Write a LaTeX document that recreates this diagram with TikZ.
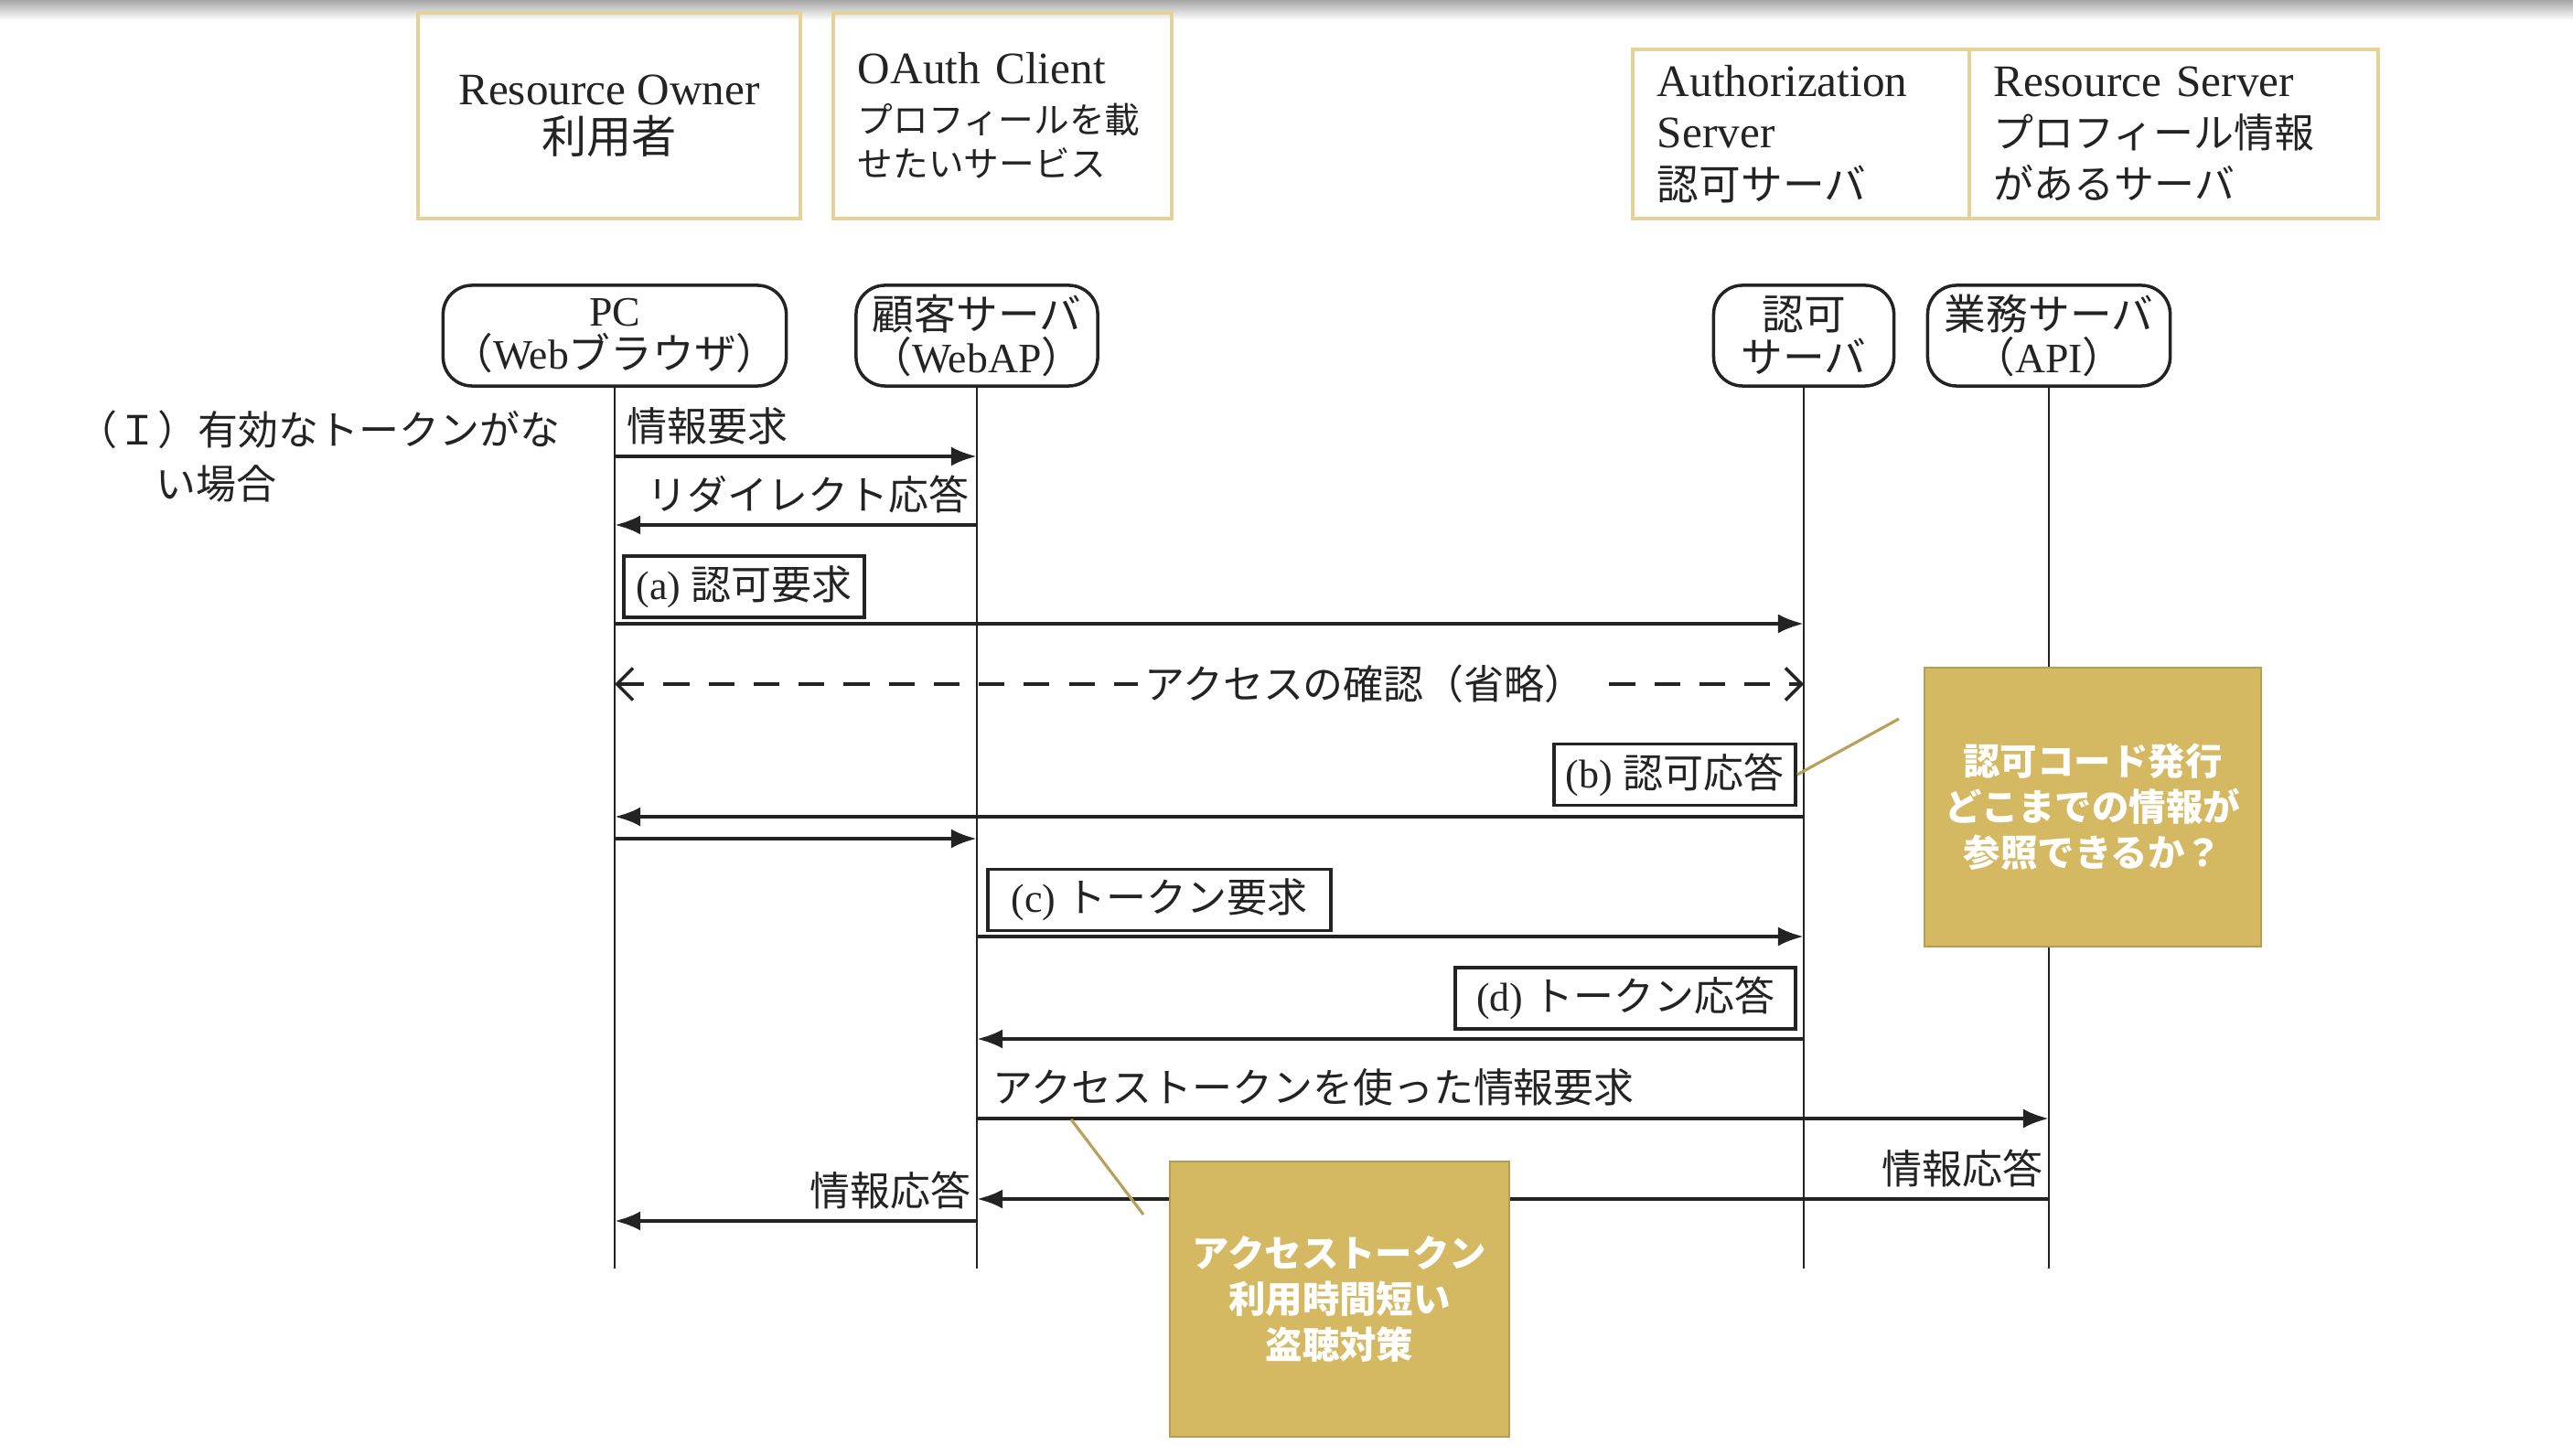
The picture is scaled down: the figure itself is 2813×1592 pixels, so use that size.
\documentclass[tikz,border=0pt]{standalone}
\usepackage{fontspec}
\setmainfont{Liberation Serif}
\newfontfamily\jp{Noto Sans CJK JP}
\usetikzlibrary{arrows.meta}
\definecolor{framegold}{RGB}{228,210,150}
\definecolor{notegold}{RGB}{213,185,98}
\definecolor{leadgold}{RGB}{185,160,90}
\definecolor{ink}{RGB}{35,35,35}

\tikzset{
  role/.style={draw=framegold, line width=1.3pt, inner sep=0pt, text=ink},
  head/.style={draw=ink, line width=1pt, rounded corners=9pt, align=center, minimum height=1.1cm, inner sep=0pt, text=ink, font=\fontsize{13}{13.3}\selectfont},
  life/.style={draw=ink, line width=0.6pt},
  msg/.style={draw=ink, line width=1.2pt, -{Latex[length=8pt,width=6pt]}},
  ask/.style={draw=ink, line width=1pt, dash pattern=on 8pt off 6pt, {Straight Barb[length=5pt,width=10pt]}-{Straight Barb[length=5pt,width=10pt]}},
  lbl/.style={inner sep=0pt, text=ink, font=\jp\fontsize{12.5}{14}\selectfont},
  tagbox/.style={draw=ink, line width=1pt, fill=white, inner sep=0pt, minimum height=0.67cm, text=ink, font=\fontsize{12.5}{14}\selectfont},
  memo/.style={fill=notegold, draw=notegold!85!black, line width=0.6pt, text=white, align=center, font=\jp\bfseries\fontsize{11.5}{14.2}\selectfont},
  lead/.style={draw=leadgold, line width=0.9pt}
}

\begin{document}
\begin{tikzpicture}[x=0.01cm, y=-0.01cm]
\useasboundingbox (0,0) rectangle (2813,1592);
\shade[top color=black!35, bottom color=white] (0,0) rectangle (2813,22);

% roles at the top
\node[role, minimum width=4.18cm, minimum height=2.25cm, align=center, font=\fontsize{14}{15}\selectfont] (owner) at (666,126.5)
  {Resource Owner\\ {\jp 利用者}};
\node[role, minimum width=3.70cm, minimum height=2.25cm, text width=3.16cm, align=left, font=\fontsize{14}{13.6}\selectfont] (client) at (1096,126.5)
  {OAuth Client\\[1.8pt] \jp\fontsize{11}{13.6}\selectfont プロフィールを載\\ せたいサービス};
\node[role, minimum width=3.68cm, minimum height=1.85cm, text width=3.14cm, align=left, font=\fontsize{14}{16}\selectfont] (authrole) at (1969,146.5)
  {Authorization\\ Server\\ \jp\fontsize{13}{16}\selectfont 認可サーバ};
\node[role, minimum width=4.47cm, minimum height=1.85cm, text width=3.93cm, align=left, font=\fontsize{14}{16}\selectfont] (resrole) at (2376.5,146.5)
  {Resource Server\\ \jp\fontsize{12.5}{16}\selectfont プロフィール情報\\ があるサーバ};

% lifeline heads
\node[head, minimum width=3.75cm] (pc) at (672,367) {PC\\{\jp （}Web{\jp ブラウザ）}};
\node[head, minimum width=2.64cm] (web) at (1068,367) {{\jp 顧客サーバ}\\{\jp （}WebAP{\jp ）}};
\node[head, minimum width=1.97cm] (auth) at (1972,367) {{\jp 認可}\\{\jp サーバ}};
\node[head, minimum width=2.65cm] (api) at (2240,367) {{\jp 業務サーバ}\\{\jp （}API{\jp ）}};

% lifelines
\foreach \n in {pc,web,auth,api}
  \draw[life] (\n.south) -- (\n |- 0,1387);

% case note
\node[lbl, anchor=west] (casea) at (84,470) {（Ｉ）有効なトークンがな};
\node[lbl, anchor=west] (caseb) at (170,529) {い場合};

% messages
\draw[msg] (pc |- 0,499) -- (web |- 0,499);
\node[lbl, anchor=west] (m1) at (685,466) {情報要求};

\draw[msg] (web |- 0,574) -- (pc |- 0,574);
\node[lbl, anchor=east] (m2) at (1060,540) {リダイレクト応答};

\node[tagbox, minimum width=2.63cm] (taga) at (813.5,641.5) {(a) {\jp 認可要求}};
\draw[msg] (pc |- 0,682) -- (auth |- 0,682);

\draw[ask] (pc |- 0,748) -- (auth |- 0,748);
\node[lbl, fill=white, inner xsep=2pt] (check) at (1492,748) {アクセスの確認（省略）};

\node[tagbox, minimum width=2.64cm] (tagb) at (1831,847) {(b) {\jp 認可応答}};
\draw[msg] (auth |- 0,893) -- (pc |- 0,893);

\draw[msg] (pc |- 0,917) -- (web |- 0,917);

\node[tagbox, minimum width=3.75cm] (tagc) at (1267.5,984) {(c) {\jp トークン要求}};
\draw[msg] (web |- 0,1024) -- (auth |- 0,1024);

\node[tagbox, minimum width=3.72cm] (tagd) at (1777,1091.5) {(d) {\jp トークン応答}};
\draw[msg] (auth |- 0,1136) -- (web |- 0,1136);

\draw[msg] (web |- 0,1223) -- (api |- 0,1223);
\node[lbl, anchor=west] (m9) at (1085,1189) {アクセストークンを使った情報要求};

\draw[msg] (api |- 0,1311) -- (web |- 0,1311);
\node[lbl, anchor=east] (m10) at (2234,1277) {情報応答};

\draw[msg] (web |- 0,1335) -- (pc |- 0,1335);
\node[lbl, anchor=east] (m11) at (1062,1302) {情報応答};

% notes
\node[memo, minimum width=3.68cm, minimum height=3.05cm] (codenote) at (2288,882.5)
  {認可コード発行\\どこまでの情報が\\参照できるか？};
\node[memo, minimum width=3.71cm, minimum height=3.01cm] (tokennote) at (1464.5,1420.5)
  {アクセストークン\\利用時間短い\\盗聴対策};

\coordinate (leadb) at (2076,786);
\coordinate (leadt0) at (1171,1224);
\coordinate (leadt1) at (1250,1328);
\draw[lead] (tagb.east) -- (leadb);
\draw[lead] (leadt0) -- (leadt1);

\end{tikzpicture}
\end{document}
